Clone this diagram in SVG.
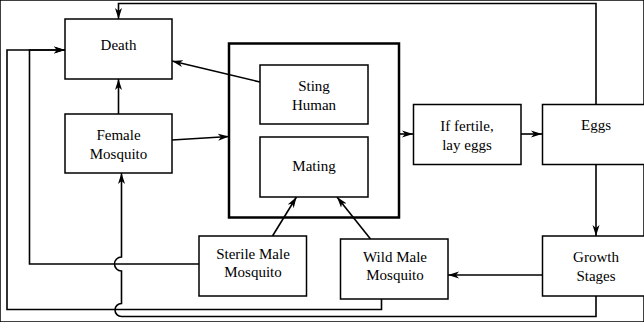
<svg xmlns="http://www.w3.org/2000/svg" width="644" height="322" viewBox="0 0 644 322">
<defs>
<marker id="ah" markerWidth="12" markerHeight="8" viewBox="0 0 12 8" refX="11" refY="4" orient="auto" markerUnits="userSpaceOnUse">
<path d="M0,0.5 L11,4 L0,7.5 L3,4 z" fill="#000"/>
</marker>
</defs>
<style>
rect{fill:#fff;stroke:#000;stroke-width:1.5}
rect.big{stroke-width:2.5;fill:none}
text{font-family:"Liberation Serif","Times New Roman",serif;font-size:15px;fill:#000;text-anchor:middle}
.c path{fill:none;stroke:#000;stroke-width:1.6}
.c path.a{marker-end:url(#ah)}
</style>
<rect width="644" height="322" fill="#fff" stroke="none"/>
<g class="c" id="connectors">
<path class="a" d="M596,105 V3.5 H118.5 V19"/>
<path class="a" d="M118.5,114 V79"/>
<path class="a" d="M260,82 L172,61"/>
<path class="a" d="M172,140 L229,136.5"/>
<path class="a" d="M399,134 H413"/>
<path class="a" d="M521,134 H542"/>
<path class="a" d="M596,164 V236"/>
<path class="a" d="M542,275 H448"/>
<path class="a" d="M272.5,236 L296.5,197"/>
<path class="a" d="M370.5,239 L337,197"/>
<path class="a" d="M199,264 H29.5 V50 H65"/>
<path class="a" d="M381.5,299 V309.5 H7 V50 H65"/>
<path class="a" d="M596,296 V316.5 H121.5 A6.5,6.5 0 0 1 121.5,303.5 V271 A7,7 0 0 1 121.5,257 V173"/>
</g>
<g id="death"><rect x="65" y="19" width="107" height="60"/><text x="118.5" y="50">Death</text></g>
<g id="female"><rect x="65" y="114" width="107" height="59"/><text x="118.5" y="140">Female</text><text x="118.5" y="159">Mosquito</text></g>
<g id="group"><rect class="big" x="229" y="43.5" width="170" height="174"/></g>
<g id="sting"><rect x="260" y="65" width="108" height="59"/><text x="314" y="91">Sting</text><text x="314" y="110">Human</text></g>
<g id="mating"><rect x="260" y="137" width="108" height="60"/><text x="314" y="171">Mating</text></g>
<g id="fertile"><rect x="413.5" y="104.5" width="107.5" height="60"/><text x="467" y="131">If fertile,</text><text x="467" y="150">lay eggs</text></g>
<g id="eggs"><rect x="542.5" y="104.5" width="107" height="60"/><text x="596" y="130">Eggs</text></g>
<g id="growth"><rect x="542.5" y="236" width="107" height="60"/><text x="596" y="262">Growth</text><text x="596" y="281">Stages</text></g>
<g id="sterile"><rect x="199" y="236" width="107.5" height="60"/><text x="253" y="259">Sterile Male</text><text x="253" y="277">Mosquito</text></g>
<g id="wild"><rect x="340.5" y="239" width="107.5" height="60"/><text x="395" y="262">Wild Male</text><text x="395" y="280">Mosquito</text></g>
</svg>
